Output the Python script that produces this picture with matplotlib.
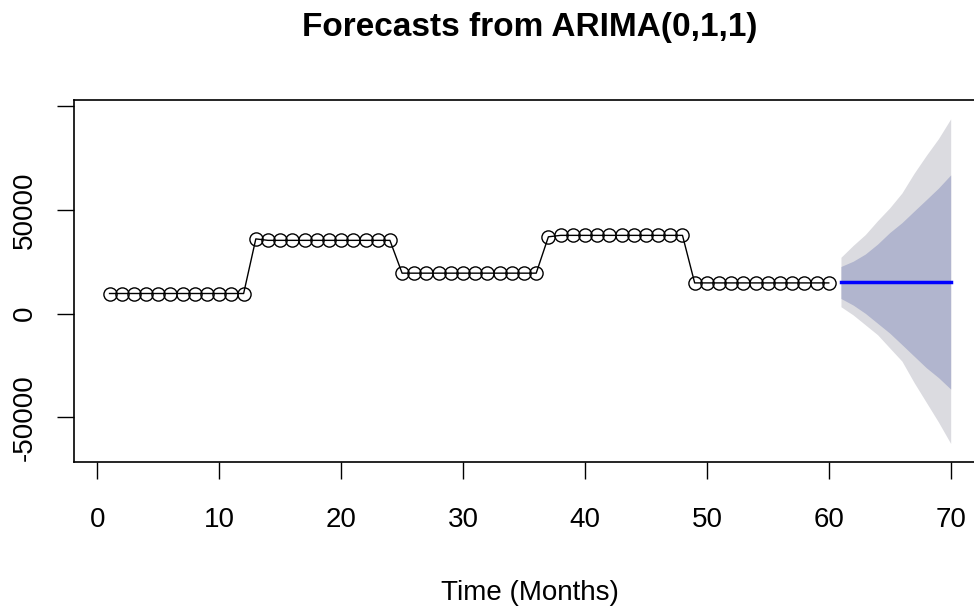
import numpy as np
import matplotlib
matplotlib.use("Agg")
import matplotlib.pyplot as plt

# observed monthly series (months 1..60)
months = list(range(1, 61))
sales = ([9700] * 12 +
         [36000] + [35300] * 11 +
         [19500] * 12 +
         [37000] + [37700] * 11 +
         [14800] * 12)

# forecast horizon (months 61..70)
fc_months = list(range(61, 71))
fc_mean = [15200] * 10
lo80 = [7290, 4140, 140, -4620, -9380, -14900, -20480, -26050, -30810, -36330]
hi80 = [22710, 25240, 28710, 33480, 39050, 43810, 49380, 54900, 60480, 66810]
lo95 = [3330, -620, -5380, -10140, -16520, -22860, -33190, -42710, -52240, -62520]
hi95 = [27140, 32860, 38100, 44760, 50950, 58100, 67600, 76200, 84300, 93800]

plt.rcParams['font.family'] = ['Liberation Sans', 'DejaVu Sans']

fig = plt.figure(figsize=(9.74, 6.07), dpi=100)
ax = fig.add_axes([74.3 / 974, 144.7 / 607, (985.9 - 74.3) / 974, (462.3 - 100) / 607])

ax.fill_between(fc_months, lo95, hi95, color='#dbdbe0', lw=0)
ax.fill_between(fc_months, lo80, hi80, color='#b1b5ce', lw=0)
ax.plot(fc_months, fc_mean, color='#0000ff', lw=2.5)
ax.plot(months, sales, color='black', lw=1, marker='o', ms=9.5,
        mfc='none', mec='black', mew=1)

ax.set_xlim(-1.89, 72.89)
ax.set_ylim(-71600, 102900)

ax.set_xticks(range(0, 71, 10))
ax.set_yticks([-50000, 0, 50000, 100000])
ax.set_yticklabels(['-50000', '0', '50000', ''], rotation=90, va='center')
ax.tick_params(axis='both', labelsize=20, length=12, width=1, colors='black')
ax.tick_params(axis='x', pad=20)
ax.tick_params(axis='y', pad=14)

for s in ax.spines.values():
    s.set_linewidth(1.2)

ax.set_xlabel('Time (Months)', fontsize=20, labelpad=34)
fig.suptitle('Forecasts from ARIMA(0,1,1)', fontsize=24, fontweight='bold',
             x=530 / 974, y=1 - 12 / 607, va='top')

fig.savefig('out.png', dpi=100)
